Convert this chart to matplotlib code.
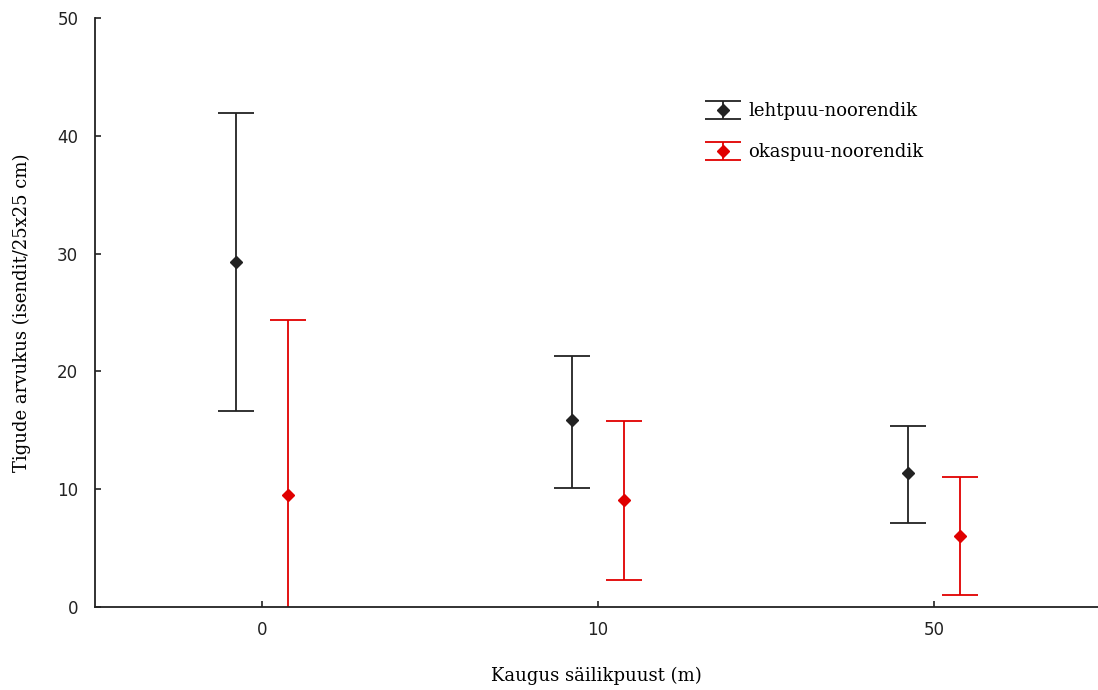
import matplotlib
matplotlib.use("Agg")
import matplotlib.pyplot as plt
import numpy as np

# distances from retention tree (m)
categories = ["0", "10", "50"]

# lehtpuu-noorendik (deciduous saplings)
leht_mean = [29.3, 15.9, 11.4]
leht_low = [16.6, 10.1, 7.1]
leht_high = [41.9, 21.3, 15.4]

# okaspuu-noorendik (coniferous saplings)
okas_mean = [9.5, 9.1, 6.0]
okas_low = [-5.4, 2.3, 1.0]
okas_high = [24.4, 15.8, 11.0]

BLACK = "#222222"
RED = "#e00000"

fig = plt.figure(figsize=(10.98, 6.90), dpi=100)
ax = fig.add_axes([0.0865, 0.1203, 0.9135, 0.8537])

x = np.arange(len(categories))
off = 0.077


def draw(xs, mean, low, high, color, label):
    mean = np.array(mean)
    yerr = [mean - np.array(low), np.array(high) - mean]
    return ax.errorbar(xs, mean, yerr=yerr, fmt="D", color=color, ecolor=color,
                       markersize=6, capsize=13, capthick=1.3, elinewidth=1.3,
                       linestyle="none", label=label)


h1 = draw(x - off, leht_mean, leht_low, leht_high, BLACK, "lehtpuu-noorendik")
h2 = draw(x + off, okas_mean, okas_low, okas_high, RED, "okaspuu-noorendik")

ax.set_ylim(0, 50)
ax.set_xlim(-0.497, 2.488)
ax.set_yticks([0, 10, 20, 30, 40, 50])
ax.set_xticks(x)
ax.set_xticklabels(categories)

for s in ["top", "right"]:
    ax.spines[s].set_visible(False)
for s in ["left", "bottom"]:
    ax.spines[s].set_linewidth(1.3)
    ax.spines[s].set_color(BLACK)

ax.tick_params(direction="in", length=4, width=1.2, labelsize=12, pad=10,
               colors=BLACK)
ax.tick_params(axis="y", pad=12)

serif = {"family": "DejaVu Serif", "size": 13}
ax.set_xlabel("Kaugus säilikpuust (m)", fontdict=serif, labelpad=20)
ax.set_ylabel("Tigude arvukus (isendit/25x25 cm)", fontdict=serif, labelpad=19)

leg = ax.legend(handles=[h1, h2], loc="upper left", bbox_to_anchor=(0.592, 0.885),
                frameon=False, prop={"family": "DejaVu Serif", "size": 13},
                handlelength=2.0, handletextpad=0.4, labelspacing=1.3)

fig.savefig("out.png", dpi=100)
